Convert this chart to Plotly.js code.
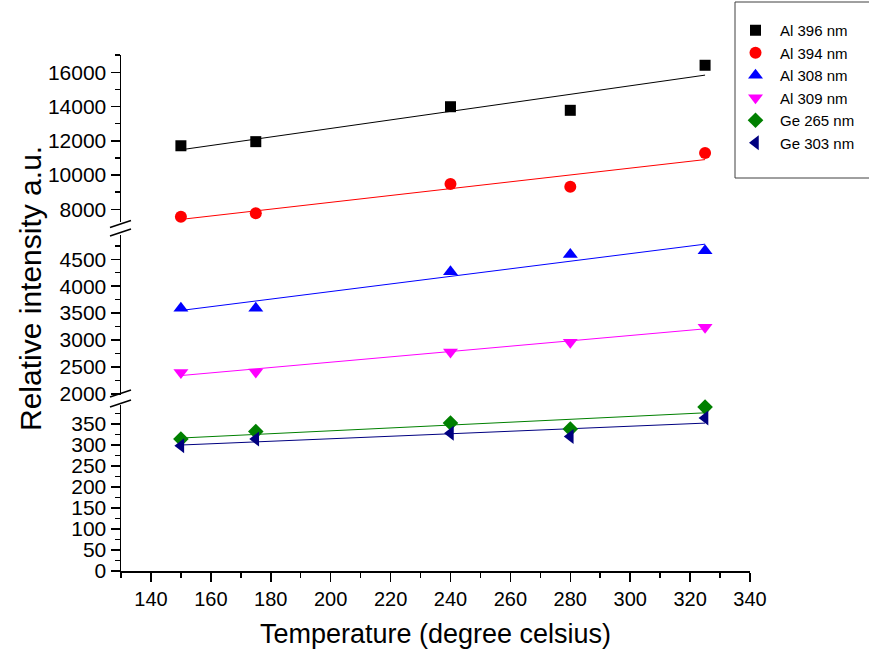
<!DOCTYPE html>
<html>
<head>
<meta charset="utf-8">
<script src="https://cdn.plot.ly/plotly-3.0.1.min.js"></script>
<style>html,body{margin:0;padding:0;background:#fff;} #chart{width:869px;height:651px;}</style>
</head>
<body>
<div id="chart"></div>
<script>
// ---- Data ----
const temperature = [150, 175, 240, 280, 325];
const al396 = [11710, 11950, 13990, 13780, 16410];
const al394 = [7570, 7770, 9480, 9320, 11290];
const al308 = [3590, 3590, 4270, 4590, 4660];
const al309 = [2400, 2410, 2780, 2960, 3240];
const ge265 = [314, 332, 352, 338, 390];
const ge303 = [298, 314, 328, 320, 364];
const seriesNames = ['Al 396 nm', 'Al 394 nm', 'Al 308 nm', 'Al 309 nm', 'Ge 265 nm', 'Ge 303 nm'];
const xTickVals = [140, 160, 180, 200, 220, 240, 260, 280, 300, 320, 340];

// ---- Styles ----
const FONT = 'Liberation Sans, Arial, sans-serif';
const styles = [
  {color: '#000000', symbol: 'square', size: 11, axis: 'y3'},
  {color: '#FF0000', symbol: 'circle', size: 12, axis: 'y3'},
  {color: '#0000FF', symbol: 'triangle-up', size: 13, axis: 'y2'},
  {color: '#FF00FF', symbol: 'triangle-down', size: 13, axis: 'y2'},
  {color: '#008000', symbol: 'diamond', size: 12, axis: 'y'},
  {color: '#000080', symbol: 'triangle-left', size: 13, axis: 'y'}
];
const allSeries = [al396, al394, al308, al309, ge265, ge303];

function linFit(xs, ys) {
  const n = xs.length;
  const mx = xs.reduce((a, b) => a + b, 0) / n;
  const my = ys.reduce((a, b) => a + b, 0) / n;
  let sxy = 0, sxx = 0;
  for (let i = 0; i < n; i++) { sxy += (xs[i] - mx) * (ys[i] - my); sxx += (xs[i] - mx) ** 2; }
  const b = sxy / sxx, a = my - b * mx;
  const x0 = Math.min(...xs), x1 = Math.max(...xs);
  return {x: [x0, x1], y: [a + b * x0, a + b * x1]};
}

const traces = [];
allSeries.forEach((ys, i) => {
  const s = styles[i];
  const f = linFit(temperature, ys);
  traces.push({x: f.x, y: f.y, yaxis: s.axis, xaxis: 'x', mode: 'lines', showlegend: false,
    line: {color: s.color, width: 1}, hoverinfo: 'skip'});
});
allSeries.forEach((ys, i) => {
  const s = styles[i];
  traces.push({x: temperature, y: ys, yaxis: s.axis, xaxis: 'x', mode: 'markers', name: seriesNames[i],
    cliponaxis: false,
    marker: {color: s.color, symbol: s.symbol, size: s.size, line: {width: 0}}});
});

// pixel -> paper helpers (plot area 121..750 x 55..571)
const L = 121, R = 750, T = 55, B = 571;
const px = x => (x - L) / (R - L);
const py = y => (B - y) / (B - T);

const axisCommon = {
  showline: true, linecolor: '#000', linewidth: 1.5, ticks: 'outside', ticklen: 9, tickwidth: 1.5,
  tickcolor: '#000', showgrid: false, zeroline: false, anchor: 'x', tickformat: 'd',
  exponentformat: 'none', separatethousands: false,
  tickfont: {family: FONT, size: 21, color: '#000'}
};

function breakStroke(yc) {
  return {type: 'line', xref: 'paper', yref: 'paper', x0: px(110), y0: py(yc + 3.5), x1: px(131), y1: py(yc - 3.5),
    line: {color: '#000', width: 1.5}};
}

const layout = {
  width: 869, height: 651,
  margin: {l: L, r: 869 - R, t: T, b: 651 - B, autoexpand: false},
  paper_bgcolor: '#fff', plot_bgcolor: '#fff',
  font: {family: FONT, color: '#000'},
  showlegend: true,
  legend: {x: px(731), y: py(14), xanchor: 'left', yanchor: 'top', bgcolor: 'rgba(0,0,0,0)', borderwidth: 0,
    font: {family: FONT, size: 15, color: '#000'}, tracegroupgap: 0, itemwidth: 39},
  xaxis: {
    range: [130, 340], anchor: 'y', showline: true, linecolor: '#000', linewidth: 1.5,
    ticks: 'outside', ticklen: 9, tickwidth: 1.5, tickcolor: '#000', showgrid: false, zeroline: false,
    tickmode: 'array', tickvals: xTickVals, ticktext: xTickVals.map(String),
    minor: {dtick: 10, tick0: 130, ticks: 'outside', ticklen: 5, tickwidth: 1.5, tickcolor: '#000', showgrid: false},
    tickfont: {family: FONT, size: 20, color: '#000'},
    title: {text: 'Temperature (degree celsius)', font: {family: FONT, size: 27, color: '#000'}, standoff: 15}
  },
  yaxis: Object.assign({}, axisCommon, {
    domain: [0, py(405)], range: [0, 395], dtick: 50, tick0: 0,
    minor: {dtick: 25, ticks: 'outside', ticklen: 5, tickwidth: 1.5, tickcolor: '#000', showgrid: false}
  }),
  yaxis2: Object.assign({}, axisCommon, {
    domain: [py(395), py(235)], range: [1981, 4950], dtick: 500, tick0: 0,
    minor: {dtick: 250, ticks: 'outside', ticklen: 5, tickwidth: 1.5, tickcolor: '#000', showgrid: false}
  }),
  yaxis3: Object.assign({}, axisCommon, {
    domain: [py(222), 1], range: [7258, 17010], dtick: 2000, tick0: 0,
    minor: {dtick: 1000, ticks: 'outside', ticklen: 5, tickwidth: 1.5, tickcolor: '#000', showgrid: false}
  }),
  annotations: [{
    text: 'Relative intensity a.u.', xref: 'paper', yref: 'paper', x: px(30), y: py(289),
    xanchor: 'center', yanchor: 'middle', textangle: -90, showarrow: false,
    font: {family: FONT, size: 30, color: '#000'}
  }],
  shapes: [
    breakStroke(224), breakStroke(232.5), breakStroke(393.5), breakStroke(403.5),
    {type: 'rect', xref: 'paper', yref: 'paper', x0: px(735), x1: px(875), y0: py(178), y1: py(2),
      line: {color: '#404040', width: 1}, fillcolor: 'rgba(0,0,0,0)'}
  ]
};

Plotly.newPlot('chart', traces, layout, {staticPlot: true, displayModeBar: false});
</script>
</body>
</html>
